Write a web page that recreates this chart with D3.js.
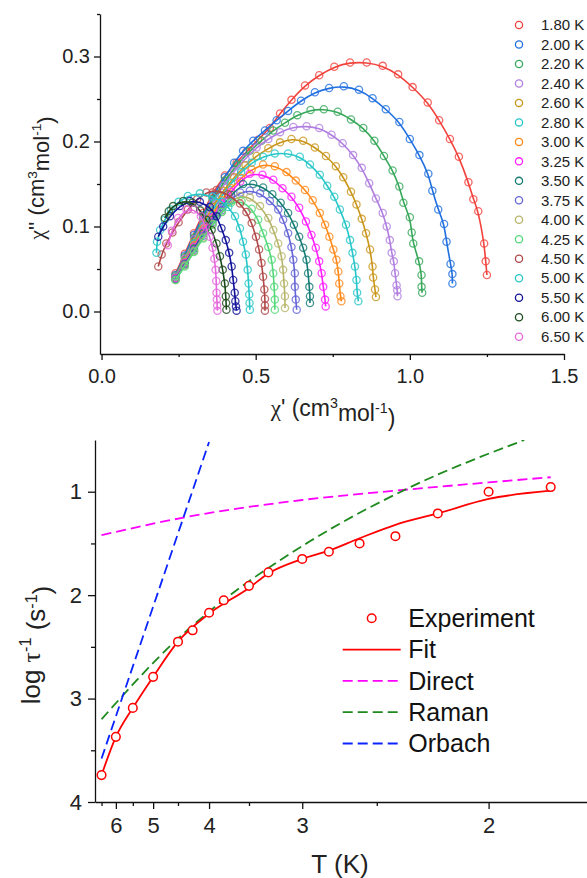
<!DOCTYPE html>
<html lang="en">
<head>
<meta charset="UTF-8">
<title>Cole-Cole and relaxation rate</title>
<script src="https://cdn.jsdelivr.net/npm/d3@7"></script>
<style>
  html,body{margin:0;padding:0;background:#fff;}
  svg{display:block;font-family:"Liberation Sans",Arial,sans-serif;}
  .axis path,.axis line{stroke:#111;stroke-width:1.3;}
  .axis text{fill:#222;}
  .greek{font-family:"Liberation Serif","DejaVu Serif",serif;}
</style>
</head>
<body>
<svg id="chart" width="587" height="878"></svg>
<script>
// ---- Cole-Cole data: [chi', chi''] for each temperature
var temps = ["1.80 K","2.00 K","2.20 K","2.40 K","2.60 K","2.80 K","3.00 K","3.25 K","3.50 K",
             "3.75 K","4.00 K","4.25 K","4.50 K","5.00 K","5.50 K","6.00 K","6.50 K"];
var colors = ["#f2423c","#1f6fe0","#37a85a","#b07ee0","#c9961a","#27c6c8","#ff8a1a","#ff1eff","#147c74",
              "#6565d8","#b6b56a","#55d87a","#b04848","#27c6c8","#10109a","#1b4a1b","#e666de"];

var s180 = [[0.24,0.045],[0.27,0.068],[0.30,0.092],[0.33,0.116],[0.36,0.140],[0.40,0.160],[0.438,0.175],[0.470,0.188],[0.508,0.202],[0.546,0.216],[0.579,0.233],[0.616,0.249],[0.660,0.266],[0.706,0.278],[0.755,0.288],[0.806,0.293],[0.860,0.293],[0.912,0.289],[0.962,0.279],[1.009,0.264],[1.058,0.246],[1.095,0.225],[1.130,0.203],[1.159,0.182],[1.190,0.152],[1.206,0.132],[1.222,0.118],[1.241,0.080],[1.246,0.059],[1.250,0.043]];
var s200 = [[0.24,0.043],[0.27,0.066],[0.30,0.090],[0.33,0.113],[0.36,0.136],[0.40,0.158],[0.43,0.175],[0.459,0.189],[0.492,0.201],[0.530,0.213],[0.568,0.225],[0.605,0.236],[0.647,0.248],[0.692,0.258],[0.738,0.263],[0.786,0.265],[0.835,0.261],[0.879,0.251],[0.922,0.238],[0.966,0.223],[1.000,0.203],[1.031,0.184],[1.060,0.162],[1.073,0.142],[1.092,0.120],[1.111,0.103],[1.119,0.082],[1.132,0.056],[1.138,0.044],[1.138,0.033]];
var s220 = [[0.24,0.042],[0.27,0.064],[0.30,0.087],[0.33,0.110],[0.36,0.132],[0.40,0.154],[0.44,0.173],[0.481,0.189],[0.519,0.201],[0.557,0.213],[0.595,0.222],[0.635,0.231],[0.678,0.237],[0.721,0.238],[0.766,0.235],[0.809,0.226],[0.849,0.216],[0.885,0.201],[0.916,0.183],[0.944,0.166],[0.966,0.147],[0.979,0.128],[1.000,0.111],[1.006,0.093],[1.011,0.080],[1.030,0.059],[1.038,0.043],[1.038,0.029],[1.040,0.022]];
var s240 = [[0.24,0.041],[0.27,0.062],[0.30,0.085],[0.33,0.107],[0.36,0.128],[0.395,0.148],[0.43,0.165],[0.467,0.180],[0.503,0.193],[0.541,0.203],[0.579,0.211],[0.622,0.217],[0.665,0.218],[0.706,0.216],[0.746,0.208],[0.782,0.198],[0.816,0.184],[0.844,0.169],[0.868,0.151],[0.890,0.133],[0.912,0.116],[0.925,0.100],[0.935,0.084],[0.941,0.069],[0.948,0.059],[0.952,0.045],[0.957,0.031],[0.959,0.025],[0.960,0.018]];
var s260 = [[0.24,0.040],[0.27,0.060],[0.30,0.082],[0.33,0.103],[0.36,0.123],[0.395,0.142],[0.43,0.158],[0.467,0.172],[0.503,0.183],[0.541,0.192],[0.579,0.199],[0.616,0.203],[0.654,0.201],[0.692,0.193],[0.728,0.183],[0.760,0.171],[0.784,0.158],[0.809,0.141],[0.827,0.126],[0.844,0.109],[0.858,0.092],[0.871,0.073],[0.879,0.053],[0.881,0.040],[0.887,0.026],[0.890,0.017]];
var s280 = [[0.24,0.040],[0.27,0.059],[0.30,0.080],[0.33,0.100],[0.36,0.119],[0.39,0.136],[0.42,0.151],[0.453,0.164],[0.487,0.175],[0.524,0.182],[0.562,0.186],[0.605,0.186],[0.643,0.182],[0.676,0.173],[0.708,0.161],[0.732,0.148],[0.755,0.135],[0.773,0.120],[0.793,0.102],[0.806,0.084],[0.814,0.069],[0.822,0.053],[0.827,0.037],[0.829,0.022],[0.833,0.012]];
var s300 = [[0.24,0.039],[0.27,0.058],[0.30,0.078],[0.33,0.097],[0.36,0.115],[0.39,0.131],[0.42,0.145],[0.453,0.157],[0.487,0.167],[0.524,0.173],[0.562,0.171],[0.600,0.164],[0.630,0.154],[0.660,0.143],[0.685,0.131],[0.708,0.116],[0.725,0.102],[0.739,0.088],[0.752,0.073],[0.762,0.061],[0.768,0.047],[0.771,0.033],[0.775,0.018],[0.778,0.012]];
var s325 = [[0.24,0.039],[0.27,0.057],[0.30,0.076],[0.33,0.094],[0.36,0.111],[0.39,0.127],[0.42,0.141],[0.45,0.153],[0.481,0.162],[0.522,0.161],[0.557,0.155],[0.587,0.145],[0.616,0.135],[0.641,0.122],[0.663,0.106],[0.681,0.090],[0.695,0.075],[0.706,0.059],[0.714,0.045],[0.719,0.029],[0.725,0.014],[0.727,0.006]];
var s350 = [[0.24,0.038],[0.27,0.056],[0.30,0.074],[0.33,0.092],[0.36,0.108],[0.39,0.123],[0.42,0.137],[0.459,0.150],[0.492,0.150],[0.524,0.146],[0.554,0.138],[0.581,0.128],[0.605,0.116],[0.624,0.102],[0.641,0.088],[0.654,0.075],[0.665,0.061],[0.670,0.045],[0.674,0.029],[0.676,0.018],[0.676,0.010]];
var s375 = [[0.24,0.038],[0.27,0.055],[0.30,0.072],[0.33,0.089],[0.36,0.105],[0.39,0.119],[0.42,0.132],[0.45,0.140],[0.481,0.142],[0.514,0.139],[0.546,0.130],[0.573,0.120],[0.589,0.108],[0.605,0.092],[0.616,0.076],[0.622,0.061],[0.627,0.045],[0.627,0.029],[0.630,0.014],[0.633,0.002]];
var s400 = [[0.24,0.037],[0.27,0.054],[0.30,0.071],[0.33,0.087],[0.36,0.103],[0.39,0.117],[0.42,0.130],[0.45,0.136],[0.481,0.134],[0.514,0.124],[0.541,0.110],[0.557,0.096],[0.573,0.080],[0.584,0.065],[0.589,0.049],[0.592,0.033],[0.595,0.018],[0.595,0.004]];
var s425 = [[0.24,0.037],[0.27,0.053],[0.30,0.070],[0.33,0.086],[0.36,0.102],[0.39,0.117],[0.42,0.128],[0.454,0.130],[0.487,0.121],[0.508,0.108],[0.524,0.092],[0.541,0.076],[0.552,0.061],[0.557,0.045],[0.560,0.029],[0.562,0.014],[0.562,0.002]];
var s450 = [[0.184,0.053],[0.195,0.067],[0.21,0.080],[0.23,0.093],[0.25,0.105],[0.28,0.120],[0.31,0.132],[0.34,0.140],[0.373,0.143],[0.41,0.138],[0.449,0.127],[0.470,0.117],[0.487,0.104],[0.501,0.088],[0.511,0.073],[0.519,0.057],[0.524,0.041],[0.528,0.026],[0.530,0.015],[0.530,0.007],[0.530,0.001]];
var s500 = [[0.178,0.069],[0.180,0.082],[0.19,0.096],[0.205,0.108],[0.225,0.120],[0.25,0.129],[0.28,0.136],[0.319,0.139],[0.36,0.135],[0.392,0.129],[0.411,0.123],[0.433,0.112],[0.449,0.098],[0.459,0.082],[0.468,0.067],[0.474,0.049],[0.477,0.033],[0.479,0.020],[0.480,0.010],[0.481,0.002]];
var s550 = [[0.184,0.088],[0.200,0.100],[0.222,0.112],[0.254,0.124],[0.286,0.130],[0.319,0.129],[0.351,0.123],[0.373,0.112],[0.389,0.098],[0.403,0.084],[0.414,0.069],[0.422,0.053],[0.427,0.037],[0.432,0.022],[0.434,0.012],[0.436,0.006],[0.438,0.001]];
var s600 = [[0.205,0.110],[0.218,0.118],[0.232,0.124],[0.265,0.130],[0.295,0.128],[0.32,0.119],[0.34,0.108],[0.357,0.096],[0.373,0.080],[0.384,0.065],[0.393,0.049],[0.400,0.033],[0.403,0.018],[0.404,0.010],[0.405,0.002]];
var s650 = [[0.215,0.078],[0.228,0.095],[0.248,0.110],[0.275,0.120],[0.30,0.120],[0.322,0.112],[0.338,0.100],[0.351,0.088],[0.360,0.075],[0.366,0.062],[0.370,0.049],[0.372,0.036],[0.373,0.022],[0.374,0.014],[0.375,0.007],[0.376,0.001]];
var scans = [s180,s200,s220,s240,s260,s280,s300,s325,s350,s375,s400,s425,s450,s500,s550,s600,s650];

// ---- relaxation rate vs T
var expT   = [6.5,6.0,5.5,5.0,4.5,4.25,4.0,3.8,3.5,3.3,3.0,2.8,2.6,2.4,2.2,2.0,1.8];
var expLog = [3.74,3.37,3.09,2.79,2.45,2.34,2.17,2.05,1.91,1.78,1.65,1.58,1.50,1.43,1.21,1.00,0.955];
var fitT   = [6.5,6.0,5.5,5.0,4.5,4.0,3.5,3.3,3.0,2.8,2.6,2.4,2.2,2.0,1.8];
var fitLog = [3.74,3.37,3.09,2.79,2.45,2.18,1.93,1.79,1.65,1.57,1.45,1.32,1.21,1.07,0.99];
var directT   = [6.5,4.4,3.0,2.4,2.0,1.8];
var directLog = [1.42,1.25,1.08,0.99,0.91,0.86];
var ramanT   = [6.5,4.5,4.0,2.94,2.33,1.88];
var ramanLog = [3.20,2.42,2.16,1.48,0.96,0.50];
var orbachT   = [6.5,4.0];
var orbachLog = [3.58,0.52];

var svg = d3.select("#chart");

function sup(t, s){
  t.append("tspan").attr("dy","-0.55em").attr("font-size","0.62em").text(s);
  return t.append("tspan").attr("dy","0.55em");
}

// ================= top panel =================
var x1 = d3.scaleLinear().domain([-0.005,1.5]).range([100,564]);
var y1 = d3.scaleLinear().domain([-0.05,0.35]).range([354,14]);

svg.append("g").attr("class","axis").attr("transform","translate(0,354)")
  .call(d3.axisBottom(x1).tickValues([0,0.5,1,1.5]).tickFormat(d3.format(".1f"))
    .tickSize(6).tickSizeOuter(0).tickPadding(9))
  .selectAll("text").attr("font-size","20px");
svg.append("g").attr("class","axis").attr("transform","translate(0,354)")
  .call(d3.axisBottom(x1).tickValues([0.25,0.75,1.25]).tickSize(3).tickFormat(""))
  .select(".domain").remove();
svg.append("g").attr("class","axis").attr("transform","translate(100,0)")
  .call(d3.axisLeft(y1).tickValues([0,0.1,0.2,0.3]).tickFormat(d3.format(".1f"))
    .tickSize(6).tickSizeOuter(0).tickPadding(4))
  .selectAll("text").attr("font-size","20px");
svg.append("g").attr("class","axis").attr("transform","translate(100,0)")
  .call(d3.axisLeft(y1).tickValues([0.05,0.15,0.25,0.35]).tickSize(3).tickFormat(""))
  .select(".domain").remove();
svg.selectAll(".axis .domain").attr("fill","none");

var xt1 = svg.append("text").attr("x",333).attr("y",416).attr("text-anchor","middle")
  .attr("font-size","23px").attr("fill","#222");
xt1.append("tspan").attr("class","greek").text("\u03c7");
xt1.append("tspan").text("' (cm");
sup(xt1,"3").text("mol");
sup(xt1,"-1").text(")");

var yt1 = svg.append("text").attr("transform","translate(44,178) rotate(-90)")
  .attr("text-anchor","middle").attr("font-size","22px").attr("fill","#222");
yt1.append("tspan").attr("class","greek").text("\u03c7");
yt1.append("tspan").text("'' (cm");
sup(yt1,"3").text("mol");
sup(yt1,"-1").text(")");

var arc = d3.line().x(d => x1(d[0])).y(d => y1(d[1])).curve(d3.curveBasis);

scans.forEach(function(s, i){
  var g = svg.append("g");
  g.append("path").attr("d", arc(s)).attr("fill","none")
    .attr("stroke", colors[i]).attr("stroke-width",1.6);
  g.selectAll("circle").data(s).join("circle")
    .attr("cx", d => x1(d[0])).attr("cy", d => y1(d[1])).attr("r",3.6)
    .attr("fill","none").attr("stroke", colors[i]).attr("stroke-width",1.3)
    .attr("stroke-opacity",0.8);
});

var leg1 = svg.append("g");
temps.forEach(function(t, i){
  var yy = 25 + i*19.48;
  leg1.append("circle").attr("cx",519).attr("cy",yy).attr("r",3.6)
    .attr("fill","none").attr("stroke",colors[i]).attr("stroke-width",1.3);
  leg1.append("text").attr("x",541).attr("y",yy).attr("dy","0.35em")
    .attr("font-size","15px").attr("fill","#222").text(t);
});

// ================= bottom panel =================
var x2 = d3.scaleLinear().domain([0.148,0.588]).range([95,587]);
var y2 = d3.scaleLinear().domain([0.5,4]).range([440,802]);

svg.append("g").attr("class","axis").attr("transform","translate(0,802)")
  .call(d3.axisBottom(x2).tickValues([6,5,4,3,2].map(v => 1/v)).tickFormat(d => Math.round(1/d))
    .tickSize(7).tickSizeOuter(0).tickPadding(8))
  .selectAll("text").attr("font-size","22px");
svg.append("g").attr("class","axis").attr("transform","translate(0,802)")
  .call(d3.axisBottom(x2).tickValues([6.5,5.5,4.5,3.5,2.5].map(v => 1/v)).tickSize(4).tickFormat(""))
  .select(".domain").remove();
svg.append("g").attr("class","axis").attr("transform","translate(95,0)")
  .call(d3.axisLeft(y2).tickValues([1,2,3,4]).tickFormat(d3.format("d"))
    .tickSize(7).tickSizeOuter(0).tickPadding(6))
  .selectAll("text").attr("font-size","22px");
svg.append("g").attr("class","axis").attr("transform","translate(95,0)")
  .call(d3.axisLeft(y2).tickValues([1.5,2.5,3.5]).tickSize(4).tickFormat(""))
  .select(".domain").remove();
svg.selectAll(".axis .domain").attr("fill","none");

svg.append("text").attr("x",340).attr("y",873).attr("text-anchor","middle")
  .attr("font-size","26px").attr("fill","#222").text("T (K)");

var yt2 = svg.append("text").attr("transform","translate(40,645) rotate(-90)")
  .attr("text-anchor","middle").attr("font-size","26px").attr("fill","#222");
yt2.append("tspan").text("log ");
yt2.append("tspan").attr("class","greek").text("\u03c4");
sup(yt2,"-1").text(" (s");
sup(yt2,"-1").text(")");

svg.append("clipPath").attr("id","plot2").append("rect")
  .attr("x",95).attr("y",440).attr("width",492).attr("height",362);

var rate = d3.line().x(d => x2(1/d[0])).y(d => y2(d[1])).curve(d3.curveMonotoneX);
var pg = svg.append("g").attr("clip-path","url(#plot2)");

pg.append("path").attr("d", rate(d3.zip(directT, directLog))).attr("fill","none")
  .attr("stroke","#ff00ff").attr("stroke-width",1.8).attr("stroke-dasharray","10,5");
pg.append("path").attr("d", rate(d3.zip(ramanT, ramanLog))).attr("fill","none")
  .attr("stroke","#1e8a1e").attr("stroke-width",1.8).attr("stroke-dasharray","10,5");
pg.append("path").attr("d", rate(d3.zip(orbachT, orbachLog))).attr("fill","none")
  .attr("stroke","#0a24ff").attr("stroke-width",1.8).attr("stroke-dasharray","10,5");
pg.append("path").attr("d", rate(d3.zip(fitT, fitLog))).attr("fill","none")
  .attr("stroke","#ff0000").attr("stroke-width",1.8);
pg.selectAll("circle.exp").data(d3.zip(expT, expLog)).join("circle").attr("class","exp")
  .attr("cx", d => x2(1/d[0])).attr("cy", d => y2(d[1])).attr("r",4.3)
  .attr("fill","#fff").attr("stroke","#ff0000").attr("stroke-width",1.5);

// legend
var legItems = ["Experiment","Fit","Direct","Raman","Orbach"];
var legColors = ["#ff0000","#ff0000","#ff00ff","#1e8a1e","#0a24ff"];
var leg2 = svg.append("g");
legItems.forEach(function(name, i){
  var yy = 618.3 + i*31.3;
  if (i === 0) {
    leg2.append("circle").attr("cx",371.7).attr("cy",yy).attr("r",4.3)
      .attr("fill","none").attr("stroke",legColors[i]).attr("stroke-width",1.5);
  } else {
    leg2.append("line").attr("x1",342.7).attr("x2",400.7).attr("y1",yy).attr("y2",yy)
      .attr("stroke",legColors[i]).attr("stroke-width",1.8)
      .attr("stroke-dasharray", i === 1 ? null : "10,5");
  }
  leg2.append("text").attr("x",408.3).attr("y",yy).attr("dy","0.35em")
    .attr("font-size","25px").attr("fill","#111").text(name);
});
</script>
</body>
</html>
